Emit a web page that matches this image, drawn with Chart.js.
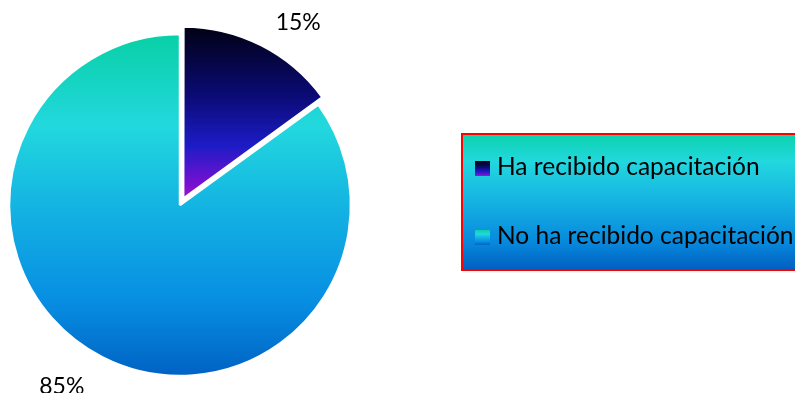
<!DOCTYPE html>
<html>
<head>
<meta charset="utf-8">
<script src="https://cdn.jsdelivr.net/npm/chart.js@4/dist/chart.umd.min.js"></script>
<style>
  html, body { margin: 0; padding: 0; background: #ffffff; overflow: hidden; }
  #wrap { width: 795px; height: 393px; }
</style>
</head>
<body>
<div id="wrap"><canvas id="canvas" width="795" height="393"></canvas></div>
<script>
const labels = ['Ha recibido capacitación', 'No ha recibido capacitación'];
const values = [15, 85];
const percentLabels = ['15%', '85%'];

const PIE_RADIUS = 171;
const FONT = 'Lato, Carlito, Calibri, sans-serif';

// colour stops for each slice, top to bottom
function darkStops(g) {
  g.addColorStop(0, '#00000c');
  g.addColorStop(0.43, '#0b0b78');
  g.addColorStop(0.7, '#1c1cc6');
  g.addColorStop(0.93, '#7c10d2');
  g.addColorStop(1, '#9a20c0');
  return g;
}

function blueStops(g) {
  g.addColorStop(0, '#08d0a6');
  g.addColorStop(0.27, '#22d8de');
  g.addColorStop(0.5, '#14b4e2');
  g.addColorStop(0.78, '#078ee2');
  g.addColorStop(1, '#0062c4');
  return g;
}

function sliceFill(context) {
  const chart = context.chart;
  const area = chart.chartArea;
  if (!area) return '#22d8de';
  const c = chart.ctx;
  const cy = (area.top + area.bottom) / 2;
  if (context.dataIndex === 0) {
    return darkStops(c.createLinearGradient(0, cy - PIE_RADIUS - 7, 0, cy));
  }
  return blueStops(c.createLinearGradient(0, cy - PIE_RADIUS, 0, cy + PIE_RADIUS));
}

// percentage text outside each slice
const outsideLabels = {
  id: 'outsideLabels',
  afterDatasetsDraw(chart) {
    const c = chart.ctx;
    const meta = chart.getDatasetMeta(0);
    c.save();
    c.font = '23px ' + FONT;
    c.fillStyle = '#000000';
    c.textAlign = 'center';
    c.textBaseline = 'middle';
    meta.data.forEach(function(arc, i) {
      const p = arc.getProps(['x', 'y', 'startAngle', 'endAngle', 'outerRadius'], true);
      const mid = (p.startAngle + p.endAngle) / 2 + 6 * Math.PI / 180;
      const r = p.outerRadius + 46;
      c.fillText(percentLabels[i], p.x + Math.cos(mid) * r, p.y + Math.sin(mid) * r);
    });
    c.restore();
  }
};

// boxed legend with a gradient background
const boxLegend = {
  id: 'boxLegend',
  afterDraw(chart) {
    const c = chart.ctx;
    const left = 462, top = 134, w = 420, h = 136;
    c.save();
    const bg = c.createLinearGradient(0, top, 0, top + h);
    bg.addColorStop(0, '#0bd2ac');
    bg.addColorStop(0.2, '#22d8de');
    bg.addColorStop(0.5, '#15b2e2');
    bg.addColorStop(0.8, '#0788dc');
    bg.addColorStop(1, '#005ec0');
    c.fillStyle = bg;
    c.fillRect(left, top, w, h);
    c.strokeStyle = '#ff0000';
    c.lineWidth = 2;
    c.strokeRect(left, top, w, h);

    c.font = '24.5px ' + FONT;
    c.textAlign = 'left';
    c.textBaseline = 'alphabetic';
    const baselines = [175, 244];
    labels.forEach(function(text, i) {
      const sy = baselines[i] - 14;
      const g = c.createLinearGradient(0, sy, 0, sy + 15);
      c.fillStyle = i === 0 ? darkStops(g) : blueStops(g);
      c.fillRect(475, sy, 15, 15);
      c.fillStyle = '#000000';
      c.fillText(text, 497, baselines[i]);
    });
    c.restore();
  }
};

const ctx = document.getElementById('canvas');

new Chart(ctx, {
  type: 'pie',
  data: {
    labels: labels,
    datasets: [{
      data: values,
      backgroundColor: sliceFill,
      borderColor: '#ffffff',
      borderWidth: 2.5,
      // arc offset is divided by 4 when drawn
      offset: [28, 0],
      radius: PIE_RADIUS
    }]
  },
  options: {
    responsive: false,
    animation: false,
    layout: {
      padding: { left: 0, right: 435, top: 20, bottom: 3 }
    },
    plugins: {
      legend: { display: false },
      tooltip: { enabled: false }
    }
  },
  plugins: [outsideLabels, boxLegend]
});
</script>
</body>
</html>
